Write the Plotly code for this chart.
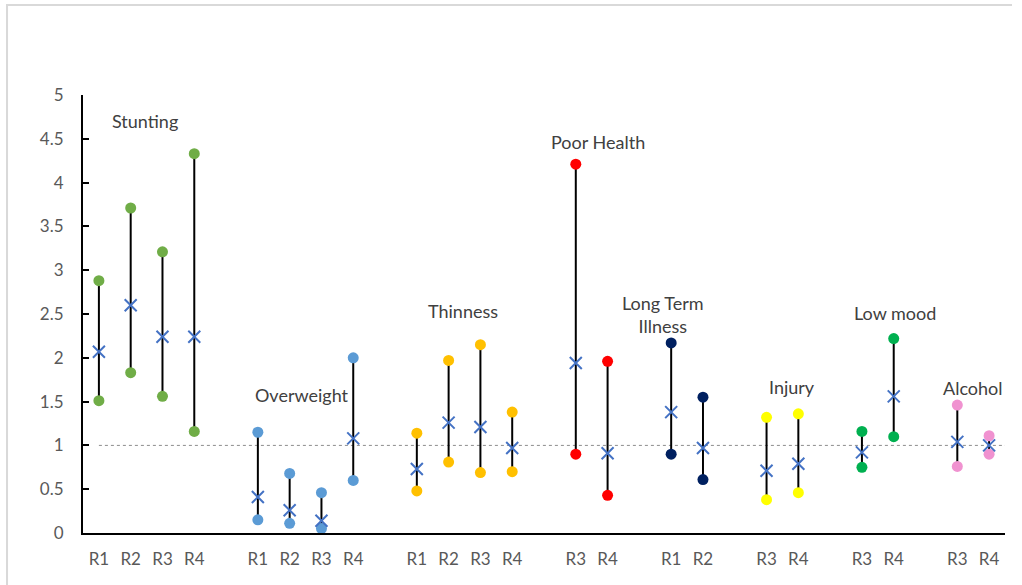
import plotly.graph_objects as go

groups = ["Stunting", "Overweight", "Thinness", "Poor Health",
          "Long Term Illness", "Injury", "Low mood", "Alcohol"]
group_labels = ["Stunting", "Overweight", "Thinness", "Poor Health",
                "Long Term<br>Illness", "Injury", "Low mood", "Alcohol"]
rounds = [
    ["R1", "R2", "R3", "R4"],
    ["R1", "R2", "R3", "R4"],
    ["R1", "R2", "R3", "R4"],
    ["R3", "R4"],
    ["R1", "R2"],
    ["R3", "R4"],
    ["R3", "R4"],
    ["R3", "R4"],
]
low = [
    [1.51, 1.83, 1.56, 1.16],
    [0.15, 0.11, 0.05, 0.60],
    [0.48, 0.81, 0.69, 0.70],
    [0.90, 0.43],
    [0.90, 0.61],
    [0.38, 0.46],
    [0.75, 1.10],
    [0.76, 0.90],
]
estimate = [
    [2.07, 2.60, 2.24, 2.24],
    [0.41, 0.26, 0.14, 1.08],
    [0.73, 1.26, 1.21, 0.97],
    [1.94, 0.91],
    [1.38, 0.97],
    [0.71, 0.79],
    [0.92, 1.56],
    [1.04, 1.00],
]
high = [
    [2.88, 3.71, 3.21, 4.33],
    [1.15, 0.68, 0.46, 2.00],
    [1.14, 1.97, 2.15, 1.38],
    [4.21, 1.96],
    [2.17, 1.55],
    [1.32, 1.36],
    [1.16, 2.22],
    [1.46, 1.11],
]
colors = ["#70AD47", "#5B9BD5", "#FFC000", "#FF0000",
          "#002060", "#FFFF00", "#00B050", "#F092D0"]
y_ticks = [0, 0.5, 1, 1.5, 2, 2.5, 3, 3.5, 4, 4.5, 5]
label_x = [1.45, 6.4, 11.45, 15.7, 17.75, 21.8, 25.05, 27.5]
label_y = [4.70, 1.575, 2.53, 4.46, 2.50, 1.67, 2.51, 1.655]

# category order with blank spacer slots between groups
cat_array, tick_vals, tick_text = [], [], []
for gi, g in enumerate(groups):
    if gi > 0:
        cat_array.append(" " * gi)
    for r in rounds[gi]:
        key = f"{g}|{r}"
        cat_array.append(key)
        tick_vals.append(key)
        tick_text.append(r)

fig = go.Figure()

# vertical range lines
lx, ly = [], []
for gi, g in enumerate(groups):
    for ri, r in enumerate(rounds[gi]):
        key = f"{g}|{r}"
        lx += [key, key, None]
        ly += [low[gi][ri], high[gi][ri], None]
fig.add_trace(go.Scatter(x=lx, y=ly, mode="lines",
                         line=dict(color="black", width=2),
                         hoverinfo="skip", showlegend=False))

# low/high dots
for gi, g in enumerate(groups):
    keys = [f"{g}|{r}" for r in rounds[gi]]
    fig.add_trace(go.Scatter(
        x=keys + keys, y=low[gi] + high[gi], mode="markers",
        marker=dict(color=colors[gi], size=11, line=dict(width=0)),
        name=g, showlegend=False))

# estimates
ex, ey = [], []
for gi, g in enumerate(groups):
    for ri, r in enumerate(rounds[gi]):
        ex.append(f"{g}|{r}")
        ey.append(estimate[gi][ri])
fig.add_trace(go.Scatter(
    x=ex, y=ey, mode="markers",
    marker=dict(symbol="x-thin", size=12, color="#4472C4",
                line=dict(color="#4472C4", width=2)),
    showlegend=False))

# reference line at 1
fig.add_shape(type="line", xref="x", yref="y", x0=0, x1=len(cat_array) - 0.5,
              y0=1, y1=1, line=dict(color="#8c8c8c", width=1, dash="dot"),
              layer="below")

# outer chart-area border (light grey): top and left edges only
fig.add_shape(type="path", xref="paper", yref="paper",
              path="M 1.0076 1.2055 L -0.0824 1.2055 L -0.0824 -0.2",
              line=dict(color="#d9d9d9", width=2), layer="below")

for gi in range(len(groups)):
    fig.add_annotation(x=label_x[gi], y=label_y[gi], text=group_labels[gi],
                       showarrow=False, xref="x", yref="y",
                       font=dict(size=18, color="#404040"))

fig.update_layout(
    width=1022, height=585,
    margin=dict(l=83, r=17, t=95, b=52),
    paper_bgcolor="white", plot_bgcolor="white",
    font=dict(family="Lato, Carlito, Liberation Sans, sans-serif",
              color="#595959"),
    xaxis=dict(type="category", categoryorder="array",
               categoryarray=cat_array,
               range=[-0.5, len(cat_array) - 0.5],
               tickmode="array", tickvals=tick_vals, ticktext=tick_text,
               showline=True, linecolor="black", linewidth=2,
               showgrid=False, zeroline=False, ticks="",
               ticklabelstandoff=10,
               tickfont=dict(size=17, color="#595959")),
    yaxis=dict(range=[0, 5], tickvals=y_ticks,
               ticktext=[f"{v:g}" for v in y_ticks],
               showline=True, linecolor="black", linewidth=2,
               showgrid=False, zeroline=False,
               ticks="inside", ticklen=6, tickcolor="black", tickwidth=2,
               ticklabelstandoff=14,
               tickfont=dict(size=17, color="#595959")),
)

fig.write_html("out.html",
               config={"displayModeBar": False},
               post_script="document.body.style.margin='0';"
                           "document.body.style.overflow='hidden';")
